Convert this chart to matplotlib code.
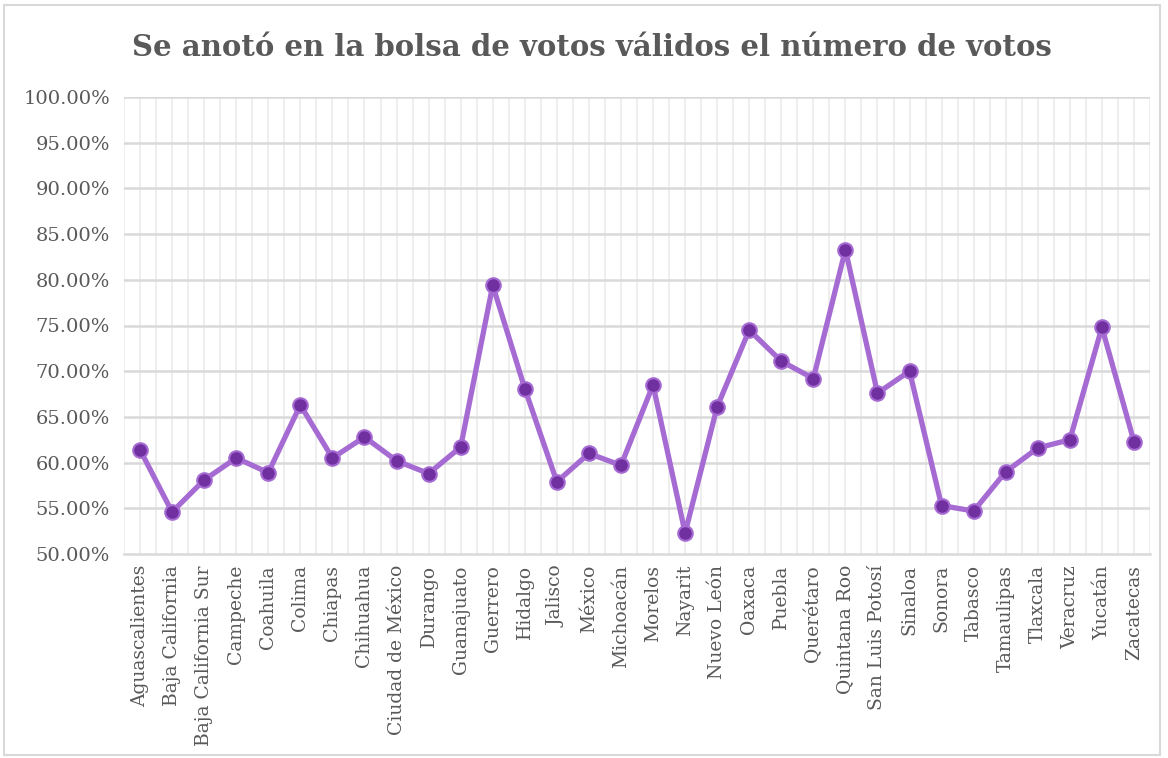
import numpy as np
import matplotlib.pyplot as plt
from matplotlib.patches import Rectangle
from matplotlib.ticker import FuncFormatter

# datos
estados = ['Aguascalientes', 'Baja California', 'Baja California Sur', 'Campeche',
           'Coahuila', 'Colima', 'Chiapas', 'Chihuahua', 'Ciudad de México',
           'Durango', 'Guanajuato', 'Guerrero', 'Hidalgo', 'Jalisco', 'México',
           'Michoacán', 'Morelos', 'Nayarit', 'Nuevo León', 'Oaxaca', 'Puebla',
           'Querétaro', 'Quintana Roo', 'San Luis Potosí', 'Sinaloa', 'Sonora',
           'Tabasco', 'Tamaulipas', 'Tlaxcala', 'Veracruz', 'Yucatán', 'Zacatecas']
porcentaje = [61.4, 54.6, 58.1, 60.5, 58.9, 66.3, 60.5, 62.8, 60.2, 58.8, 61.7,
              79.4, 68.1, 57.9, 61.0, 59.7, 68.5, 52.3, 66.1, 74.5, 71.1, 69.2,
              83.3, 67.6, 70.0, 55.3, 54.7, 59.0, 61.6, 62.5, 74.8, 62.3]
yticks = np.arange(50, 101, 5)

serif = ['DejaVu Serif']
gris = '#595959'

fig = plt.figure(figsize=(11.68, 7.58), dpi=100)
# marco del gráfico
fig.patches.append(Rectangle((4 / 1168, 3 / 758), 1156 / 1168, 750 / 758,
                             transform=fig.transFigure, fill=False,
                             edgecolor='#D9D9D9', linewidth=1.5))

ax = fig.add_axes([124 / 1168, 1 - 554 / 758, 1026 / 1168, 457 / 758])
x = np.arange(len(estados))

# rejilla
for xv in np.arange(-0.5, len(estados), 0.5):
    ax.axvline(xv, color='#EDEDED', linewidth=1.3, zorder=0)
for yv in yticks[1:]:
    ax.axhline(yv, color='#D9D9D9', linewidth=1.8, zorder=1)

ax.plot(x, porcentaje, color='#A66BD3', linewidth=3.8, zorder=3,
        marker='o', markersize=10.5, markerfacecolor='#7030A0',
        markeredgecolor='#A66BD3', markeredgewidth=1.5)

ax.set_xlim(-0.5, len(estados) - 0.5)
ax.set_ylim(50, 100)
ax.set_yticks(yticks)
ax.yaxis.set_major_formatter(FuncFormatter(lambda v, p: f'{v:.2f}%'))
ax.set_xticks(x)
ax.set_xticklabels(estados, rotation=90, family=serif, fontsize=13.5, color=gris)
for lab in ax.get_yticklabels():
    lab.set_family(serif)
    lab.set_fontsize(14)
    lab.set_color(gris)
ax.tick_params(axis='y', length=0, pad=10)
ax.tick_params(axis='x', length=0, pad=8)

for s in ['top', 'right', 'left']:
    ax.spines[s].set_visible(False)
ax.spines['bottom'].set_color('#D9D9D9')
ax.spines['bottom'].set_linewidth(1.8)

fig.text(592 / 1168, 1 - 47 / 758,
         'Se anotó en la bolsa de votos válidos el número de votos',
         ha='center', va='center', family=serif, fontweight='bold',
         fontsize=21, color=gris)

fig.savefig('out.png', dpi=100)
